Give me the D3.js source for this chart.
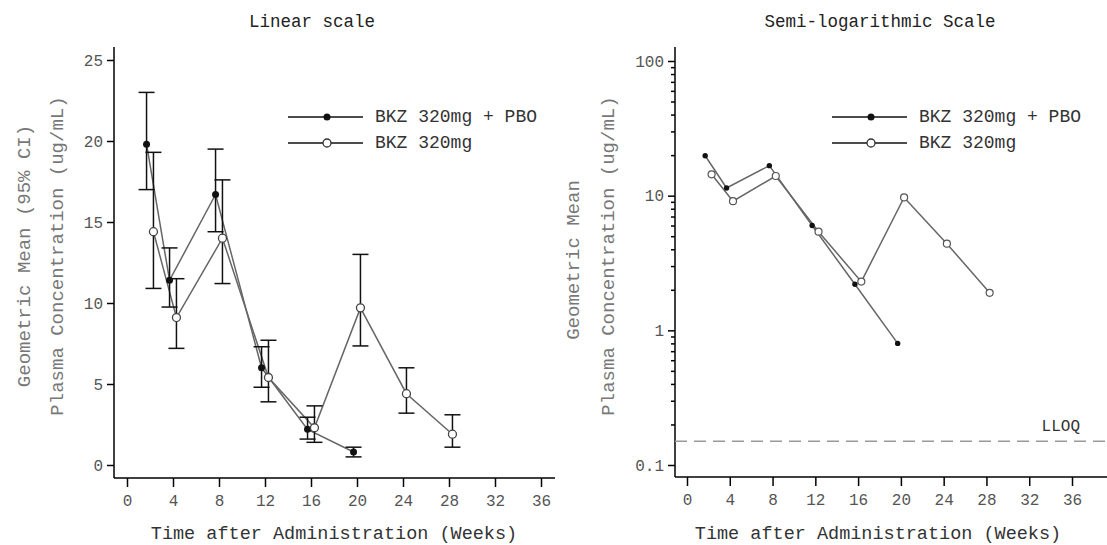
<!DOCTYPE html>
<html>
<head>
    <style>
        body { margin: 0; background: #fff; }
        svg text { font-family: "Liberation Mono", "Courier New", monospace; }
        .tick text { fill: #555; font-size: 16px; }
        .tick line { stroke: #000; stroke-width: 1.5; }
        .frame { stroke: #000; stroke-width: 1.5; }
        .title { fill: #222; font-size: 17.5px; }
        .xtitle { fill: #333; font-size: 18.5px; }
        .ytitle { fill: #777; font-size: 19px; }
        .legend text { fill: #333; font-size: 18px; }
        .series { fill: none; stroke: #666; stroke-width: 1.5; }
        .err { stroke: #111; stroke-width: 1.5; }
    </style>
    <script src="https://d3js.org/d3.v7.min.js"></script>
</head>
<body>
<svg width="1107" height="545"></svg>
<script>
    // data
    var weeksA = [2, 4, 8, 12, 16, 20];
    var meanA = [19.8, 11.4, 16.7, 6.0, 2.2, 0.8];
    var lowA = [17.0, 9.75, 14.4, 4.8, 1.6, 0.5];
    var highA = [23.0, 13.4, 19.5, 7.3, 2.95, 1.1];

    var weeksB = [2, 4, 8, 12, 16, 20, 24, 28];
    var meanB = [14.4, 9.1, 14.0, 5.4, 2.3, 9.7, 4.4, 1.9];
    var lowB = [10.9, 7.2, 11.2, 3.9, 1.4, 7.35, 3.2, 1.1];
    var highB = [19.3, 11.5, 17.6, 7.7, 3.65, 13.0, 6.0, 3.1];

    var seriesNames = ["BKZ 320mg + PBO", "BKZ 320mg"];
    var xTicks = [0, 4, 8, 12, 16, 20, 24, 28, 32, 36];
    var yTicksLin = [0, 5, 10, 15, 20, 25];
    var yTicksLog = [0.1, 1, 10, 100];
    var lloq = 0.15;

    var svg = d3.select("svg");

    function rows(w, m, lo, hi, dx) {
        return w.map(function (d, i) {
            return { x: d + dx, y: m[i], lo: lo[i], hi: hi[i] };
        });
    }
    var dataA = rows(weeksA, meanA, lowA, highA, -0.3);
    var dataB = rows(weeksB, meanB, lowB, highB, 0.3);

    // ---------- left: linear ----------
    var xL = d3.scaleLinear().domain([0, 36]).range([127, 541]);
    var yL = d3.scaleLinear().domain([0, 25]).range([465, 60]);
    var gL = svg.append("g");

    gL.append("line").attr("class", "frame").attr("x1", 114).attr("x2", 114).attr("y1", 47).attr("y2", 478);
    gL.append("line").attr("class", "frame").attr("x1", 114).attr("x2", 555).attr("y1", 478).attr("y2", 478);

    gL.append("g").attr("transform", "translate(0,478)")
        .call(d3.axisBottom(xL).tickValues(xTicks).tickSize(9).tickPadding(8))
        .call(function (g) { g.select(".domain").remove(); });
    gL.append("g").attr("transform", "translate(114,0)")
        .call(d3.axisLeft(yL).tickValues(yTicksLin).tickSize(7).tickPadding(4))
        .call(function (g) { g.select(".domain").remove(); });

    var lineL = d3.line().x(function (d) { return xL(d.x); }).y(function (d) { return yL(d.y); });

    [dataA, dataB].forEach(function (data) {
        gL.append("path").attr("class", "series").attr("d", lineL(data));
    });
    [dataA, dataB].forEach(function (data) {
        var eb = gL.append("g");
        data.forEach(function (d) {
            var cx = xL(d.x);
            eb.append("line").attr("class", "err").attr("x1", cx).attr("x2", cx).attr("y1", yL(d.lo)).attr("y2", yL(d.hi));
            eb.append("line").attr("class", "err").attr("x1", cx - 8).attr("x2", cx + 8).attr("y1", yL(d.lo)).attr("y2", yL(d.lo));
            eb.append("line").attr("class", "err").attr("x1", cx - 8).attr("x2", cx + 8).attr("y1", yL(d.hi)).attr("y2", yL(d.hi));
        });
    });
    gL.selectAll(".ptA").data(dataA).enter().append("circle")
        .attr("cx", function (d) { return xL(d.x); }).attr("cy", function (d) { return yL(d.y); })
        .attr("r", 3.5).attr("fill", "#111");
    gL.selectAll(".ptB").data(dataB).enter().append("circle")
        .attr("cx", function (d) { return xL(d.x); }).attr("cy", function (d) { return yL(d.y); })
        .attr("r", 4).attr("fill", "#fff").attr("stroke", "#444").attr("stroke-width", 1.3);

    gL.append("text").attr("class", "title").attr("x", 312).attr("y", 27).attr("text-anchor", "middle").text("Linear scale");
    gL.append("text").attr("class", "xtitle").attr("x", 334).attr("y", 539).attr("text-anchor", "middle").text("Time after Administration (Weeks)");
    gL.append("text").attr("class", "ytitle").attr("transform", "translate(30,256) rotate(-90)").attr("text-anchor", "middle").text("Geometric Mean (95% CI)");
    gL.append("text").attr("class", "ytitle").attr("transform", "translate(63,256) rotate(-90)").attr("text-anchor", "middle").text("Plasma Concentration (ug/mL)");

    // ---------- right: semi-log ----------
    var xR = d3.scaleLinear().domain([0, 36]).range([687, 1072]);
    var yR = d3.scaleLog().domain([0.1, 100]).range([465, 61]);
    var gR = svg.append("g");

    gR.append("line").attr("class", "frame").attr("x1", 675).attr("x2", 675).attr("y1", 47).attr("y2", 477);
    gR.append("line").attr("class", "frame").attr("x1", 675).attr("x2", 1107).attr("y1", 477).attr("y2", 477);

    gR.append("g").attr("transform", "translate(0,477)")
        .call(d3.axisBottom(xR).tickValues(xTicks).tickSize(9).tickPadding(8))
        .call(function (g) { g.select(".domain").remove(); });
    gR.append("g").attr("transform", "translate(675,0)")
        .call(d3.axisLeft(yR).tickValues(yTicksLog).tickSize(7).tickPadding(4).tickFormat(d3.format("~g")))
        .call(function (g) { g.select(".domain").remove(); });
    var minor = yR.ticks().filter(function (v) { return yTicksLog.indexOf(v) < 0; });
    gR.append("g").attr("transform", "translate(675,0)")
        .call(d3.axisLeft(yR).tickValues(minor).tickSize(4).tickFormat(""))
        .call(function (g) { g.select(".domain").remove(); });

    gR.append("line").attr("x1", 675).attr("x2", 1107).attr("y1", yR(lloq)).attr("y2", yR(lloq))
        .attr("stroke", "#999").attr("stroke-width", 1.5).attr("stroke-dasharray", "12,7");
    gR.append("text").attr("x", 1080).attr("y", yR(lloq) - 10).attr("text-anchor", "end")
        .attr("fill", "#333").style("font-size", "16px").text("LLOQ");

    var lineR = d3.line().x(function (d) { return xR(d.x); }).y(function (d) { return yR(d.y); });
    [dataA, dataB].forEach(function (data) {
        gR.append("path").attr("class", "series").attr("d", lineR(data));
    });
    gR.selectAll(".ptA").data(dataA).enter().append("circle")
        .attr("cx", function (d) { return xR(d.x); }).attr("cy", function (d) { return yR(d.y); })
        .attr("r", 2.7).attr("fill", "#111");
    gR.selectAll(".ptB").data(dataB).enter().append("circle")
        .attr("cx", function (d) { return xR(d.x); }).attr("cy", function (d) { return yR(d.y); })
        .attr("r", 3.5).attr("fill", "#fff").attr("stroke", "#555").attr("stroke-width", 1.2);

    gR.append("text").attr("class", "title").attr("x", 880).attr("y", 27).attr("text-anchor", "middle").text("Semi-logarithmic Scale");
    gR.append("text").attr("class", "xtitle").attr("x", 878).attr("y", 539).attr("text-anchor", "middle").text("Time after Administration (Weeks)");
    gR.append("text").attr("class", "ytitle").attr("transform", "translate(579,260) rotate(-90)").attr("text-anchor", "middle").text("Geometric Mean");
    gR.append("text").attr("class", "ytitle").attr("transform", "translate(614,256) rotate(-90)").attr("text-anchor", "middle").text("Plasma Concentration (ug/mL)");

    // ---------- legends ----------
    function legend(x0, y0, rFill, rOpen) {
        var lg = svg.append("g").attr("class", "legend");
        seriesNames.forEach(function (name, i) {
            var y = y0 + i * 26;
            lg.append("line").attr("x1", x0).attr("x2", x0 + 75).attr("y1", y).attr("y2", y)
                .attr("stroke", "#111").attr("stroke-width", 1.5);
            var c = lg.append("circle").attr("cx", x0 + 39).attr("cy", y);
            if (i === 0) c.attr("r", rFill).attr("fill", "#111");
            else c.attr("r", rOpen).attr("fill", "#fff").attr("stroke", "#333").attr("stroke-width", 1.3);
            lg.append("text").attr("x", x0 + 87).attr("y", y + 5).text(name);
        });
    }
    legend(288, 117, 3.5, 4);
    legend(832, 117, 3.5, 4);
</script>
</body>
</html>
